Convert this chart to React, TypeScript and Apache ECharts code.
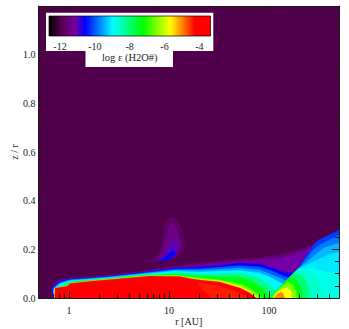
import React, { useEffect, useRef } from "react";
import * as echarts from "echarts";

type Pt = number[];
const xMajorTicks = [1, 10, 100];
const xMinorTicks = [0.6, 0.7, 0.8, 0.9, 2, 3, 4, 5, 6, 7, 8, 9, 20, 30, 40, 50, 60, 70, 80, 90, 200, 300, 400];
const barTicks = [-12, -10, -8, -6, -4];
const colorStops: [number, string][] = [
  [-12.63, "#000000"], [-12, "#50004a"], [-11.14, "#7b00a0"], [-10.56, "#0000ff"], [-8.95, "#00ffff"],
  [-7.23, "#00ff00"], [-5.68, "#ffff00"], [-4.24, "#ff0000"], [-3.36, "#ff0000"],
];

// Iso-abundance outlines, [log10 r, z / r], painted from lowest level up.
const surfaceM116: Pt[] = [[-0.175,0],[-0.17,.049],[-0.14,.062],[-0.09,.076],[0.01,.082],[0.16,.086],[0.41,.095],[0.71,.109],[1.06,.132],[1.31,.144],[1.51,.152],[1.71,.16],[1.91,.166],[2.11,.179],[2.21,.189],[2.43,.216],[2.5,.236],[2.7,.279],[2.7,0]];
const surfaceM111: Pt[] = [[-.17,0],[-.167,.049],[-.14,.059],[-.09,.074],[.01,.08],[.16,.084],[.41,.092],[.71,.107],[1.06,.127],[1.31,.136],[1.51,.144],[1.71,.152],[1.91,.156],[2.11,.164],[2.26,.181],[2.42,.206],[2.29,.123],[2.01,0]];
const surfaceM106: Pt[] = [[-.167,0],[-.164,.045],[-.14,.053],[-.09,.07],[.01,.078],[.16,.082],[.41,.09],[.71,.104],[1.06,.123],[1.31,.127],[1.51,.134],[1.71,.144],[1.91,.139],[2.04,.123],[2.14,.107],[2.24,.103],[2.01,0]];
const surfaceM100: Pt[] = [[-.16,0],[-.16,.041],[-.14,.05],[-.09,.066],[.01,.076],[.16,.08],[.41,.088],[.71,.102],[1.06,.119],[1.31,.121],[1.51,.127],[1.71,.134],[1.91,.127],[2.01,.115],[2.11,.097],[2.2,.082],[2.01,0]];
const surfaceM95: Pt[] = [[-.157,0],[-.156,.037],[-.13,.047],[-.09,.062],[.01,.074],[.16,.078],[.41,.086],[.71,.1],[1.06,.115],[1.31,.115],[1.51,.119],[1.71,.123],[1.91,.115],[2.01,.099],[2.11,.082],[2.17,.07],[2.01,0]];
const surfaceM90: Pt[] = [[-.154,0],[-.153,.033],[-.13,.045],[-.09,.058],[.01,.071],[.16,.076],[.41,.084],[.71,.097],[1.06,.111],[1.31,.107],[1.51,.111],[1.71,.113],[1.91,.103],[2.01,.086],[2.09,.068],[2.14,.058],[2.01,0]];
const surfaceM82: Pt[] = [[-.15,0],[-.15,.033],[-.13,.041],[-.07,.053],[.01,.068],[.16,.074],[.41,.082],[.71,.095],[1.06,.105],[1.31,.099],[1.51,.099],[1.71,.103],[1.86,.088],[1.96,.07],[2.03,.045],[2.08,.029],[2.01,0]];
const surfaceM73: Pt[] = [[-.148,0],[-.148,.033],[-.12,.039],[-.04,.049],[.01,.064],[.16,.072],[.41,.08],[.71,.092],[1.06,.097],[1.31,.09],[1.51,.086],[1.71,.086],[1.83,.07],[1.93,.041],[1.99,.016],[2.01,0]];
const surfaceM65: Pt[] = [[-.146,0],[-.146,.039],[-.03,.048],[.01,.062],[.16,.07],[.41,.078],[.71,.09],[1.06,.092],[1.31,.082],[1.51,.074],[1.71,.058],[1.81,.039],[1.9,.012],[1.93,0]];
const surfaceM57: Pt[] = [[-.145,0],[-.145,.041],[-.02,.049],[.01,.06],[.21,.07],[.41,.077],[.61,.084],[.81,.091],[1.11,.09],[1.21,.082],[1.31,.076],[1.51,.07],[1.71,.047],[1.81,.027],[1.89,0]];
const surfaceM40: Pt[] = [[-.143,0],[-.14,.041],[-.02,.048],[.01,.06],[.21,.069],[.41,.076],[.61,.083],[.81,.09],[1.11,.088],[1.21,.08],[1.31,.074],[1.51,.066],[1.71,.041],[1.81,.021],[1.87,0]];
const innerM45: Pt[] = [[1.28,.062],[1.46,.053],[1.63,.033],[1.77,.008],[1.79,0],[1.43,0],[1.36,.025]];

const fanM102: Pt[] = [[2.01,0],[2.29,.121],[2.43,.211],[2.49,.238],[2.7,.279],[2.7,0]];
const fanM98: Pt[] = [[2.01,0],[2.285,.117],[2.44,.197],[2.51,.22],[2.7,.259],[2.7,0]];
const fanM94: Pt[] = [[2.02,0],[2.29,.119],[2.47,.181],[2.55,.206],[2.7,.226],[2.7,0]];
const fanM91: Pt[] = [[2.03,0],[2.29,.12],[2.46,.152],[2.61,.181],[2.7,.189],[2.7,0]];
const fanM88: Pt[] = [[2.04,0],[2.3,.119],[2.44,.123],[2.57,.107],[2.7,.103],[2.7,0]];
const blobM86: Pt[] = [[2.01,0],[2.25,.105],[2.29,.117],[2.39,.111],[2.49,.074],[2.55,0]];
const blobM80: Pt[] = [[2.01,0],[2.21,.088],[2.25,.103],[2.32,.095],[2.38,.062],[2.4,.025],[2.41,0]];
const blobM73: Pt[] = [[2.01,0],[2.18,.074],[2.21,.084],[2.26,.078],[2.305,.053],[2.325,.025],[2.33,0]];
const blobM65: Pt[] = [[2.03,0],[2.05,.016],[2.13,.049],[2.19,.066],[2.24,.053],[2.27,.029],[2.28,0]];
const blobM57: Pt[] = [[2.04,0],[2.07,.018],[2.13,.037],[2.18,.043],[2.22,.029],[2.23,0]];
const blobM50: Pt[] = [[2.05,0],[2.08,.016],[2.12,.025],[2.14,.018],[2.155,0]];

const plumeM117: Pt[] = [[.74,.15],[.84,.156],[.91,.189],[.93,.238],[.96,.3],[1.0,.329],[1.03,.335],[1.07,.325],[1.11,.296],[1.14,.267],[1.16,.214],[1.13,.185],[1.06,.162],[.96,.15],[.84,.146]];
const plumeM114: Pt[] = [[.88,.158],[.94,.197],[.97,.247],[1.0,.296],[1.04,.312],[1.07,.292],[1.1,.251],[1.12,.21],[1.09,.185],[1.03,.164],[.95,.154]];
const plumeM110: Pt[] = [[.91,.158],[.97,.189],[1.01,.226],[1.06,.238],[1.09,.206],[1.07,.185],[1.01,.164],[.95,.154]];
const plumeM106: Pt[] = [[.89,.154],[.96,.169],[1.01,.189],[1.05,.197],[1.07,.185],[1.03,.164],[.96,.152]];

const layers: [number, Pt[]][] = [
  [-11.7, plumeM117], [-11.4, plumeM114], [-11.0, plumeM110], [-10.6, plumeM106],
  [-11.6, surfaceM116], [-11.1, surfaceM111], [-10.6, surfaceM106], [-10, surfaceM100], [-9.5, surfaceM95],
  [-9, surfaceM90], [-8.2, surfaceM82], [-7.3, surfaceM73], [-6.5, surfaceM65], [-5.7, surfaceM57], [-4, surfaceM40], [-4.4, innerM45],
  [-10.2, fanM102], [-9.8, fanM98], [-9.4, fanM94], [-9.1, fanM91], [-8.8, fanM88],
  [-8.6, blobM86], [-8, blobM80], [-7.3, blobM73], [-6.5, blobM65], [-5.7, blobM57], [-5, blobM50],
];

const hex = (c: string) => [1, 3, 5].map((i) => parseInt(c.slice(i, i + 2), 16));
function levelColor(v: number) {
  for (let i = 1; i < colorStops.length; i++) {
    if (v <= colorStops[i][0]) {
      const [a, ca] = colorStops[i - 1];
      const [b, cb] = colorStops[i];
      const t = Math.max(0, (v - a) / (b - a));
      const A = hex(ca), B = hex(cb);
      return `rgb(${A.map((x, k) => Math.round(x + (B[k] - x) * t)).join(",")})`;
    }
  }
  return colorStops[colorStops.length - 1][1];
}

const FONT = "Liberation Serif";
const INK = "#1a1a1a";
const R_MIN = 0.495, R_MAX = 500;
const BAR_MIN = -12.63, BAR_MAX = -3.36;

function xAxisOf(position: "bottom" | "top", ticks: number[], len: number, labels: boolean) {
  return {
    type: "log", gridIndex: 0, min: R_MIN, max: R_MAX, position, z: 5,
    splitLine: { show: false }, minorSplitLine: { show: false },
    axisLine: { show: true, onZero: false, lineStyle: { color: INK, width: 1 } },
    axisTick: { show: true, inside: true, length: len, customValues: ticks, lineStyle: { color: INK, width: 1 } },
    axisLabel: labels
      ? { show: true, customValues: ticks, margin: 7, fontFamily: FONT, fontSize: 10, color: INK, formatter: (v: number) => String(Math.round(v)) }
      : { show: false },
  };
}

export default function App() {
  const ref = useRef<HTMLDivElement>(null);
  useEffect(() => {
    document.body.style.margin = "0";
    const chart = echarts.init(ref.current!, undefined, { renderer: "svg" });
    const span = BAR_MAX - BAR_MIN;
    chart.setOption({
      animation: false,
      backgroundColor: "#ffffff",
      grid: [
        { left: 38.5, top: 6, width: 300.5, height: 292, backgroundColor: levelColor(-12), show: true, borderWidth: 0, outerBoundsMode: "none" },
        { left: 49, top: 16, width: 161.5, height: 20, outerBoundsMode: "none" },
      ],
      xAxis: [
        { ...xAxisOf("bottom", xMajorTicks, 7, true), name: "r [AU]", nameLocation: "center", nameGap: 18, nameMoveOverlap: false, nameTextStyle: { fontFamily: FONT, fontSize: 10, color: INK } },
        xAxisOf("bottom", xMinorTicks, 4, false),
        xAxisOf("top", xMajorTicks, 7, false),
        xAxisOf("top", xMinorTicks, 4, false),
        {
          type: "value", gridIndex: 1, min: BAR_MIN, max: BAR_MAX, position: "bottom", z: 120,
          splitLine: { show: false }, axisLine: { show: false }, axisTick: { show: false },
          axisLabel: { customValues: barTicks, margin: 5, fontFamily: FONT, fontSize: 10, color: INK },
          name: "log ε (H2O#)", nameLocation: "center", nameGap: 15.5, nameMoveOverlap: false, nameTextStyle: { fontFamily: FONT, fontSize: 10.5, color: INK },
        },
      ],
      yAxis: [
        {
          type: "value", gridIndex: 0, min: 0, max: 1.2, interval: 0.2, position: "left", z: 5,
          name: "z / r", nameLocation: "center", nameGap: 19, nameMoveOverlap: false, nameTextStyle: { fontFamily: FONT, fontSize: 10, color: INK },
          splitLine: { show: false },
          axisLine: { show: true, onZero: false, lineStyle: { color: INK, width: 1 } },
          axisTick: { show: true, inside: true, length: 7, lineStyle: { color: INK, width: 1 } },
          minorTick: { show: true, splitNumber: 4, length: 4, lineStyle: { color: INK, width: 1 } },
          axisLabel: { margin: 3, fontFamily: FONT, fontSize: 10, color: INK, formatter: (v: number) => (v > 1.1 ? "" : v.toFixed(1)) },
        },
        {
          type: "value", gridIndex: 0, min: 0, max: 1.2, interval: 0.2, position: "right", z: 5,
          splitLine: { show: false }, axisLabel: { show: false },
          axisLine: { show: true, onZero: false, lineStyle: { color: INK, width: 1 } },
          axisTick: { show: true, inside: true, length: 7, lineStyle: { color: INK, width: 1 } },
          minorTick: { show: true, splitNumber: 4, length: 4, lineStyle: { color: INK, width: 1 } },
        },
        { type: "value", gridIndex: 1, min: 0, max: 1, show: false },
      ],
      graphic: [
        {
          type: "polygon", z: 100, silent: true,
          shape: { points: [[46, 12.7], [213.3, 12.7], [213.3, 51], [173, 51], [173, 67], [85.5, 67], [85.5, 51], [46, 51]] },
          style: { fill: "#ffffff" },
        },
      ],
      series: [
        {
          type: "custom", coordinateSystem: "cartesian2d", xAxisIndex: 0, yAxisIndex: 0, z: 2, clip: true, silent: true,
          data: layers.map((_, i) => [1, 0.1, i]),
          encode: { x: 0, y: 1 },
          renderItem: (params: any, api: any) => {
            const [level, ring] = layers[params.dataIndex];
            const fill = levelColor(level);
            return {
              type: "polygon",
              shape: { points: ring.map(([lr, z]) => api.coord([Math.pow(10, lr), z])) },
              style: { fill, stroke: fill, lineWidth: 0.3 },
            };
          },
        },
        {
          type: "custom", coordinateSystem: "cartesian2d", xAxisIndex: 4, yAxisIndex: 2, z: 110, silent: true,
          data: [[BAR_MIN, 0, BAR_MAX, 1]],
          encode: { x: [0, 2], y: [1, 3] },
          renderItem: (_: any, api: any) => {
            const a = api.coord([api.value(0), api.value(3)]);
            const b = api.coord([api.value(2), api.value(1)]);
            return {
              type: "rect",
              shape: { x: a[0], y: a[1], width: b[0] - a[0], height: b[1] - a[1] },
              style: {
                fill: new echarts.graphic.LinearGradient(0, 0, 1, 0, colorStops.map(([v, color]) => ({ offset: (v - BAR_MIN) / span, color }))),
                stroke: "#000000", lineWidth: 0.7,
              },
            };
          },
        },
      ],
    });
    return () => chart.dispose();
  }, []);
  return <div ref={ref} style={{ width: 349, height: 329 }} />;
}
